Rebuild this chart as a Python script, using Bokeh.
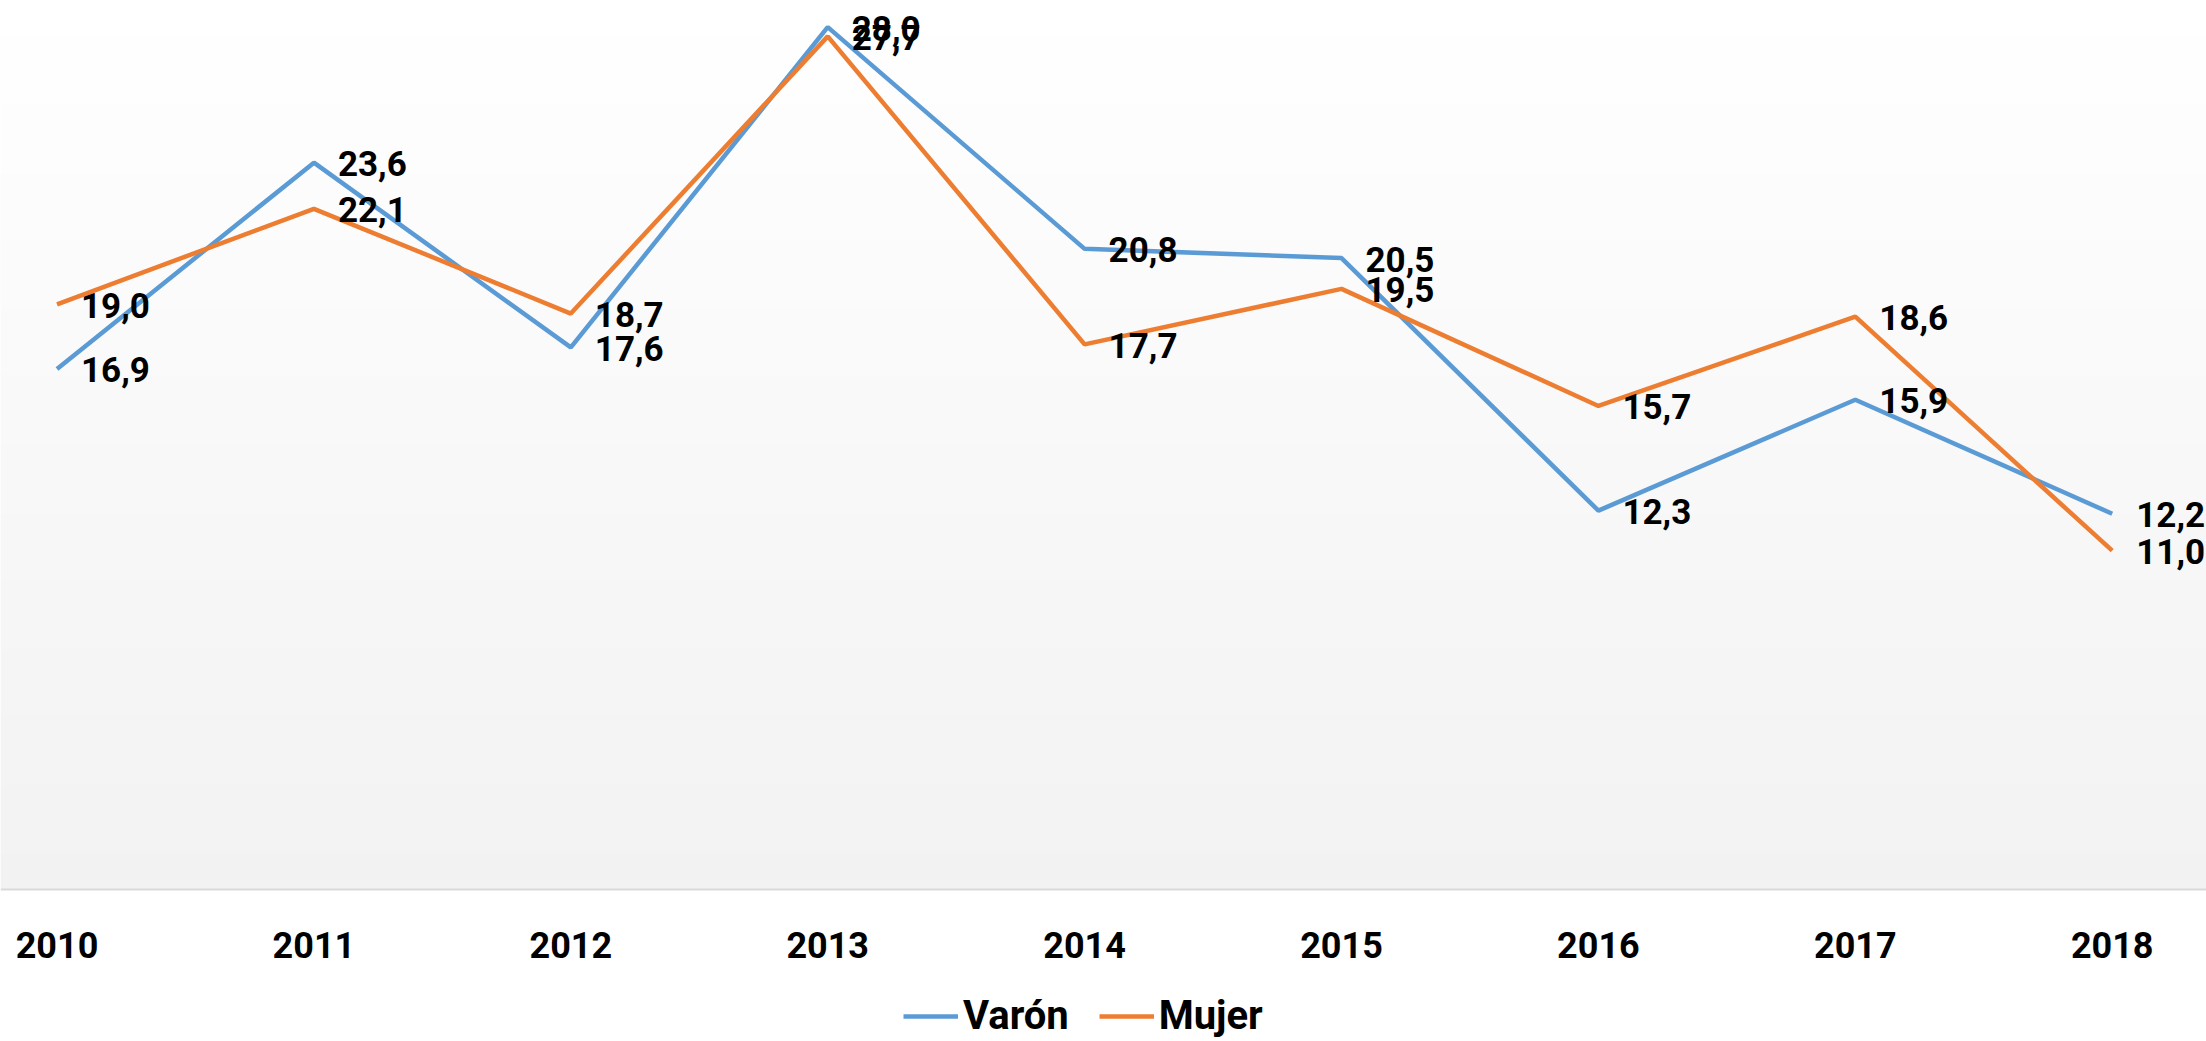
import numpy as np
from bokeh.plotting import figure
from bokeh.models import Range1d, Legend, LegendItem, ColumnDataSource, Span
from bokeh.core.properties import value
from bokeh.embed import file_html
from bokeh.resources import INLINE

# ---- data ----
years = [2010, 2011, 2012, 2013, 2014, 2015, 2016, 2017, 2018]
varon = [16.9, 23.6, 17.6, 28.0, 20.8, 20.5, 12.3, 15.9, 12.2]
mujer = [19.0, 22.1, 18.7, 27.7, 17.7, 19.5, 15.7, 18.6, 11.0]
series_names = ["Varón", "Mujer"]
tick_labels = [str(y) for y in years]

BLUE = "#5B9BD5"
ORANGE = "#ED7D31"
FONT = "Roboto"

W, H = 2206, 1041
x0, x1 = 2009.780, 2018.367
y0, y1 = -4.935, 28.864

p = figure(width=W, height=H, output_backend="svg", toolbar_location=None,
           x_range=Range1d(x0, x1), y_range=Range1d(y0, y1),
           x_axis_location=None, y_axis_location=None, min_border=0)
p.outline_line_color = None
p.grid.visible = False
p.background_fill_color = "white"
p.border_fill_color = "white"

# gradient background of plot area (above the category axis)
N = 256
img = np.empty((N, 1), dtype=np.uint32)
view = img.view(dtype=np.uint8).reshape((N, 1, 4))
for i in range(N):
    t = i / (N - 1)  # 0 bottom -> 1 top
    c = int(round(242 + (255 - 242) * t))
    view[i, 0, :3] = c
    view[i, 0, 3] = 255
p.image_rgba(image=[img], x=x0, y=0, dw=x1 - x0, dh=y1)

# category axis line
p.add_layout(Span(location=0, dimension="width", line_color="#d9d9d9", line_width=2))

src = ColumnDataSource(dict(
    x=years, varon=varon, mujer=mujer, zero=[0] * len(years), tick=tick_labels,
    lv=[f"{v:.1f}".replace(".", ",") for v in varon],
    lm=[f"{v:.1f}".replace(".", ",") for v in mujer],
))

# category tick labels
p.text("x", "zero", text="tick", source=src, y_offset=55,
       text_align="center", text_baseline="middle",
       text_font=value(FONT), text_font_size="36px", text_font_style="bold",
       text_color="black")

r1 = p.line("x", "varon", source=src, color=BLUE, line_width=4.5)
r2 = p.line("x", "mujer", source=src, color=ORANGE, line_width=4.5)

for col, yc in (("lv", "varon"), ("lm", "mujer")):
    p.text("x", yc, text=col, source=src, x_offset=24, y_offset=1,
           text_align="left", text_baseline="middle",
           text_font=value(FONT), text_font_size="35px", text_font_style="bold",
           text_color="black")

legend = Legend(items=[LegendItem(label=series_names[0], renderers=[r1]),
                       LegendItem(label=series_names[1], renderers=[r2])],
                orientation="horizontal", location=(903, 2),
                label_text_font=FONT, label_text_font_size="40px",
                label_text_font_style="bold", label_text_color="black",
                glyph_width=55, glyph_height=40, label_height=40,
                label_standoff=5, spacing=30,
                padding=0, margin=0, border_line_color=None,
                background_fill_alpha=0)
p.add_layout(legend)

open("out.html", "w").write(file_html(p, INLINE))
